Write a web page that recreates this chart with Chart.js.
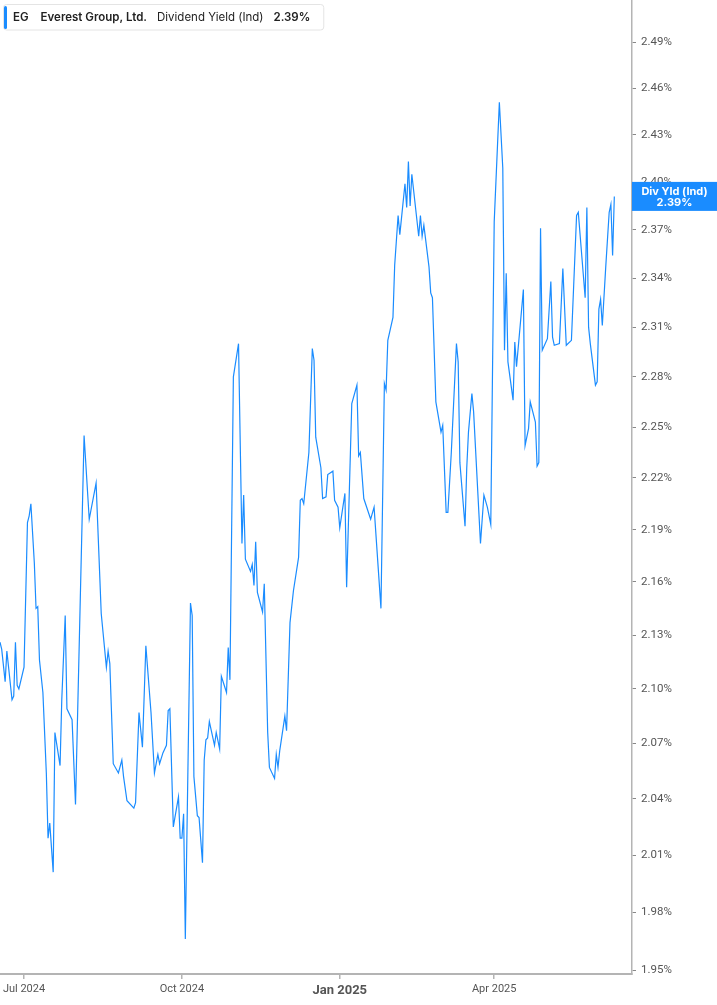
<!DOCTYPE html>
<html>
<head>
<meta charset="utf-8">
<script src="https://cdn.jsdelivr.net/npm/chart.js@4.4.1/dist/chart.umd.min.js"></script>
<style>
  html, body { margin: 0; padding: 0; background: #fff; }
  #wrap { width: 717px; height: 1005px; position: relative; }
</style>
</head>
<body>
<div id="wrap"><canvas id="chart"></canvas></div>
<script>
const seriesTicker = 'EG'
const seriesName = 'Everest Group, Ltd.'
const metricName = 'Dividend Yield (Ind)'
const badgeLabel = 'Div Yld (Ind)'

const dates = [
  '2024-06-17','2024-06-18','2024-06-20','2024-06-21','2024-06-22','2024-06-24','2024-06-25','2024-06-26','2024-06-27','2024-06-28',
  '2024-07-01','2024-07-03','2024-07-04','2024-07-05','2024-07-07','2024-07-08','2024-07-09','2024-07-10','2024-07-12','2024-07-14',
  '2024-07-15','2024-07-16','2024-07-18','2024-07-19','2024-07-22','2024-07-23','2024-07-25','2024-07-26','2024-07-29','2024-07-31',
  '2024-08-05','2024-08-08','2024-08-12','2024-08-15','2024-08-18','2024-08-19','2024-08-20','2024-08-22','2024-08-25','2024-08-27',
  '2024-08-28','2024-08-30','2024-09-03','2024-09-04','2024-09-06','2024-09-08','2024-09-10','2024-09-13','2024-09-15','2024-09-17',
  '2024-09-18','2024-09-20','2024-09-22','2024-09-23','2024-09-24','2024-09-26','2024-09-29','2024-09-30','2024-10-01','2024-10-02',
  '2024-10-03','2024-10-06','2024-10-07','2024-10-08','2024-10-10','2024-10-11','2024-10-13','2024-10-14','2024-10-15','2024-10-16',
  '2024-10-17','2024-10-20','2024-10-21','2024-10-23','2024-10-24','2024-10-27','2024-10-28','2024-10-29','2024-10-31','2024-11-03',
  '2024-11-05','2024-11-06','2024-11-07','2024-11-10','2024-11-11','2024-11-12','2024-11-13','2024-11-14','2024-11-17','2024-11-18',
  '2024-11-20','2024-11-21','2024-11-24','2024-11-25','2024-11-26','2024-11-27','2024-11-30','2024-12-01','2024-12-03','2024-12-05',
  '2024-12-08','2024-12-09','2024-12-10','2024-12-11','2024-12-14','2024-12-16','2024-12-17','2024-12-18','2024-12-21','2024-12-22',
  '2024-12-24','2024-12-25','2024-12-28','2024-12-29','2024-12-31','2025-01-01','2025-01-04','2025-01-05','2025-01-08','2025-01-11',
  '2025-01-12','2025-01-13','2025-01-15','2025-01-19','2025-01-21','2025-01-25','2025-01-27','2025-01-28','2025-01-29','2025-02-01',
  '2025-02-02','2025-02-04','2025-02-05','2025-02-08','2025-02-09','2025-02-10','2025-02-11','2025-02-12','2025-02-16','2025-02-17',
  '2025-02-18','2025-02-19','2025-02-22','2025-02-23','2025-02-24','2025-02-26','2025-03-01','2025-03-02','2025-03-04','2025-03-05',
  '2025-03-07','2025-03-10','2025-03-11','2025-03-12','2025-03-15','2025-03-16','2025-03-17','2025-03-19','2025-03-20','2025-03-24',
  '2025-03-26','2025-03-28','2025-03-30','2025-04-01','2025-04-04','2025-04-06','2025-04-07','2025-04-08','2025-04-09','2025-04-12',
  '2025-04-13','2025-04-14','2025-04-18','2025-04-19','2025-04-21','2025-04-22','2025-04-25','2025-04-26','2025-04-27','2025-04-28',
  '2025-04-29','2025-05-02','2025-05-04','2025-05-05','2025-05-06','2025-05-09','2025-05-11','2025-05-13','2025-05-16','2025-05-19',
  '2025-05-20','2025-05-24','2025-05-25','2025-05-26','2025-05-27','2025-05-30','2025-05-31','2025-06-01','2025-06-02','2025-06-03',
  '2025-06-05','2025-06-07','2025-06-08','2025-06-09','2025-06-10'
]

const yields = [
  2.126, 2.122, 2.104, 2.121, 2.112, 2.094, 2.096, 2.126, 2.102, 2.100,
  2.112, 2.194, 2.198, 2.205, 2.171, 2.145, 2.146, 2.116, 2.098, 2.054,
  2.019, 2.027, 2.001, 2.076, 2.058, 2.094, 2.141, 2.089, 2.083, 2.037,
  2.245, 2.196, 2.217, 2.142, 2.112, 2.121, 2.114, 2.059, 2.054, 2.061,
  2.052, 2.039, 2.035, 2.038, 2.087, 2.068, 2.124, 2.087, 2.054, 2.064,
  2.059, 2.065, 2.069, 2.088, 2.089, 2.025, 2.041, 2.019, 2.019, 2.032,
  1.966, 2.148, 2.141, 2.052, 2.031, 2.030, 2.006, 2.061, 2.072, 2.073,
  2.082, 2.069, 2.076, 2.067, 2.107, 2.098, 2.123, 2.105, 2.280, 2.300,
  2.182, 2.210, 2.173, 2.166, 2.170, 2.158, 2.183, 2.154, 2.143, 2.159,
  2.076, 2.057, 2.051, 2.064, 2.057, 2.066, 2.085, 2.077, 2.137, 2.155,
  2.174, 2.207, 2.208, 2.205, 2.235, 2.297, 2.290, 2.244, 2.226, 2.208,
  2.209, 2.222, 2.224, 2.207, 2.203, 2.191, 2.211, 2.157, 2.264, 2.275,
  2.233, 2.235, 2.208, 2.196, 2.203, 2.145, 2.276, 2.272, 2.302, 2.316,
  2.348, 2.379, 2.367, 2.399, 2.384, 2.413, 2.385, 2.405, 2.366, 2.379,
  2.366, 2.373, 2.347, 2.331, 2.328, 2.265, 2.247, 2.251, 2.200, 2.200,
  2.235, 2.300, 2.289, 2.229, 2.192, 2.226, 2.247, 2.270, 2.259, 2.182,
  2.210, 2.203, 2.193, 2.375, 2.451, 2.409, 2.296, 2.343, 2.289, 2.266,
  2.301, 2.286, 2.333, 2.239, 2.249, 2.265, 2.253, 2.227, 2.229, 2.371,
  2.296, 2.303, 2.338, 2.304, 2.299, 2.300, 2.346, 2.299, 2.302, 2.379,
  2.381, 2.328, 2.384, 2.310, 2.300, 2.275, 2.277, 2.321, 2.327, 2.311,
  2.347, 2.381, 2.386, 2.354, 2.391
]

const xTickDates = ['2024-07-01', '2024-10-01', '2025-01-01', '2025-04-01']
const xTickLabels = ['Jul 2024', 'Oct 2024', 'Jan 2025', 'Apr 2025']
const yTicks = [1.95, 1.98, 2.01, 2.04, 2.07, 2.10, 2.13, 2.16, 2.19, 2.22, 2.25, 2.28, 2.31, 2.34, 2.37, 2.40, 2.43, 2.46, 2.49]

const lineColor = '#1a8cff'
const axisColor = '#b4b4b4'
const textColor = '#555'

// days counted from 1 Jul 2024
const DAY0 = Date.UTC(2024, 6, 1)
const dayOf = s => (Date.parse(s) - DAY0) / 86400000

const points = dates.map((d, i) => ({ x: dayOf(d), y: yields[i] }))
const lastValue = yields[yields.length - 1]

const overlay = {
  id: 'overlay',
  afterDraw(chart) {
    const ctx = chart.ctx
    const area = chart.chartArea
    ctx.save()

    // header box, top left
    const parts = [
      { text: seriesTicker, font: '600 11.5px Inter', gap: 12 },
      { text: seriesName, font: '600 11.5px Inter', gap: 10 },
      { text: metricName, font: '400 11.5px Inter', gap: 10 },
      { text: lastValue.toFixed(2) + '%', font: '600 11.5px Inter', gap: 13 }
    ]
    let w = 13
    parts.forEach(p => { ctx.font = p.font; p.w = ctx.measureText(p.text).width; w += p.w + p.gap })
    ctx.fillStyle = '#fff'
    ctx.strokeStyle = '#e4e4e4'
    ctx.lineWidth = 1
    ctx.beginPath()
    ctx.roundRect(3.5, 4.5, w - 3, 25.5, 3)
    ctx.fill()
    ctx.stroke()
    ctx.fillStyle = lineColor
    ctx.beginPath()
    ctx.roundRect(4, 6, 3, 23, 1.5)
    ctx.fill()
    ctx.fillStyle = '#222'
    ctx.textBaseline = 'middle'
    let x = 13
    parts.forEach(p => {
      ctx.font = p.font
      ctx.fillText(p.text, x, 17.5)
      x += p.w + p.gap
    })

    // last value badge on the right axis
    const y = chart.scales.y.getPixelForValue(lastValue)
    ctx.fillStyle = lineColor
    ctx.fillRect(area.right, y - 14.5, chart.width - area.right, 29)
    ctx.fillStyle = '#fff'
    ctx.textAlign = 'center'
    ctx.font = '700 11px Inter'
    const cx = area.right + (chart.width - area.right) / 2
    ctx.fillText(badgeLabel, cx, y - 5)
    ctx.fillText(lastValue.toFixed(2) + '%', cx, y + 6)
    ctx.restore()
  }
}

new Chart(document.getElementById('chart'), {
  type: 'line',
  data: {
    datasets: [{
      label: metricName,
      data: points,
      borderColor: lineColor,
      borderWidth: 1.2,
      pointRadius: 0,
      tension: 0,
      fill: false
    }]
  },
  options: {
    responsive: true,
    maintainAspectRatio: false,
    animation: false,
    layout: { padding: 0 },
    font: { family: 'Roboto' },
    plugins: {
      legend: { display: false },
      tooltip: { enabled: false }
    },
    scales: {
      x: {
        type: 'linear',
        position: 'bottom',
        min: -14,
        max: 354.3,
        afterBuildTicks: s => { s.ticks = xTickDates.map(d => ({ value: dayOf(d) })) },
        afterFit: s => { s.height = 31; s.paddingLeft = 0; s.paddingRight = 0 },
        grid: { drawOnChartArea: false, drawTicks: true, tickLength: 5, color: axisColor, lineWidth: 1.5 },
        border: { display: true, color: axisColor, width: 2 },
        ticks: {
          padding: 4,
          color: textColor,
          autoSkip: false,
          maxRotation: 0,
          font: c => c.index === 2 ? { family: 'Roboto', size: 13, weight: 'bold' } : { family: 'Roboto', size: 11 },
          callback: (v, i) => xTickLabels[i]
        }
      },
      y: {
        type: 'logarithmic',
        position: 'right',
        min: 1.948,
        max: 2.518,
        afterBuildTicks: s => { s.ticks = yTicks.map(v => ({ value: v })) },
        afterFit: s => { s.width = 85; s.paddingTop = 0; s.paddingBottom = 0 },
        grid: { drawOnChartArea: false, drawTicks: true, tickLength: 4, color: '#888', lineWidth: 1 },
        border: { display: true, color: axisColor, width: 1.5 },
        ticks: {
          padding: 5,
          color: textColor,
          autoSkip: false,
          font: { family: 'Roboto', size: 11.5 },
          callback: v => Number(v).toFixed(2) + '%'
        }
      }
    }
  },
  plugins: [overlay]
})
</script>
</body>
</html>
